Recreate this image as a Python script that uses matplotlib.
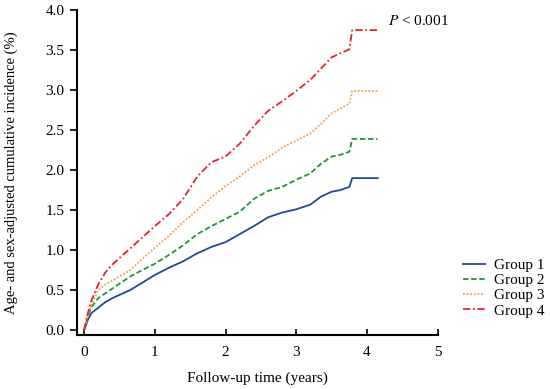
import matplotlib
matplotlib.use('Agg')
import matplotlib.pyplot as plt

plt.rcParams['font.family'] = ['Liberation Serif', 'DejaVu Serif']
plt.rcParams['mathtext.fontset'] = 'stix'

# follow-up time (years) at which curves were read
t = [0, 0.05, 0.1, 0.2, 0.3, 0.4, 0.5, 0.65, 0.8, 1.0, 1.2, 1.4, 1.6, 1.8,
     2.0, 2.2, 2.4, 2.6, 2.8, 3.0, 3.2, 3.35, 3.5, 3.62, 3.75, 3.79, 4.15]

group1 = [0, 0.12, 0.21, 0.28, 0.35, 0.40, 0.44, 0.50, 0.58, 0.69, 0.78, 0.86, 0.96, 1.04,
          1.10, 1.20, 1.30, 1.41, 1.47, 1.51, 1.57, 1.67, 1.73, 1.75, 1.79, 1.90, 1.90]
group2 = [0, 0.15, 0.28, 0.40, 0.46, 0.52, 0.58, 0.67, 0.74, 0.83, 0.94, 1.06, 1.20, 1.30,
          1.39, 1.48, 1.64, 1.74, 1.79, 1.88, 1.96, 2.08, 2.17, 2.19, 2.23, 2.39, 2.39]
group3 = [0, 0.17, 0.31, 0.50, 0.57, 0.62, 0.67, 0.75, 0.87, 1.03, 1.18, 1.35, 1.50, 1.66,
          1.80, 1.92, 2.06, 2.16, 2.28, 2.37, 2.46, 2.58, 2.71, 2.77, 2.83, 2.99, 2.99]
group4 = [0, 0.20, 0.36, 0.57, 0.72, 0.82, 0.90, 1.02, 1.14, 1.30, 1.45, 1.64, 1.92, 2.10,
          2.17, 2.33, 2.55, 2.74, 2.86, 2.99, 3.13, 3.27, 3.41, 3.46, 3.51, 3.75, 3.75]

labels = ['Group 1', 'Group 2', 'Group 3', 'Group 4']
colors = ['#1f4a9a', '#1e9632', '#f0a050', '#e8202e']
styles = ['-', (0, (3, 1.5)), (0, (1, 1)), (0, (4, 1.5, 1, 1.5))]

fig = plt.figure(figsize=(5.5, 3.89), dpi=100)
ax = fig.add_axes([0.14, 0.139, 0.656, 0.835])

for y, lab, c, ls in zip([group1, group2, group3, group4], labels, colors, styles):
    ax.plot(t, y, color=c, linestyle=ls, linewidth=1.3, label=lab)

ax.set_xlim(-0.1, 5)
ax.set_ylim(-0.06, 4.0)
ax.set_xticks([0, 1, 2, 3, 4, 5])
ax.set_yticks([0, 0.5, 1.0, 1.5, 2.0, 2.5, 3.0, 3.5, 4.0])
ax.set_yticklabels(['0.0', '0.5', '1.0', '1.5', '2.0', '2.5', '3.0', '3.5', '4.0'])

for s in ['top', 'right']:
    ax.spines[s].set_visible(False)
for s in ['left', 'bottom']:
    ax.spines[s].set_linewidth(1.5)
ax.tick_params(axis='y', direction='out', length=5, width=1.2, labelsize=11, pad=4)
ax.tick_params(axis='x', direction='in', length=4, width=1.2, labelsize=11, pad=8)

ax.set_xlabel('Follow-up time (years)', fontsize=11, labelpad=9)
ax.set_ylabel('Age- and sex-adjusted cumulative incidence (%)', fontsize=10.5)
ax.yaxis.set_label_coords(-0.163, 0.5)

ax.text(4.29, 3.87, r'$\it{P}$ < 0.001', fontsize=11, va='center', ha='left')

fig.legend(loc='center left', bbox_to_anchor=(0.842, 0.26), frameon=False,
           fontsize=11, handlelength=1.45, handletextpad=0.6, labelspacing=0.1,
           borderpad=0, borderaxespad=0)

fig.savefig('out.png', dpi=100)
